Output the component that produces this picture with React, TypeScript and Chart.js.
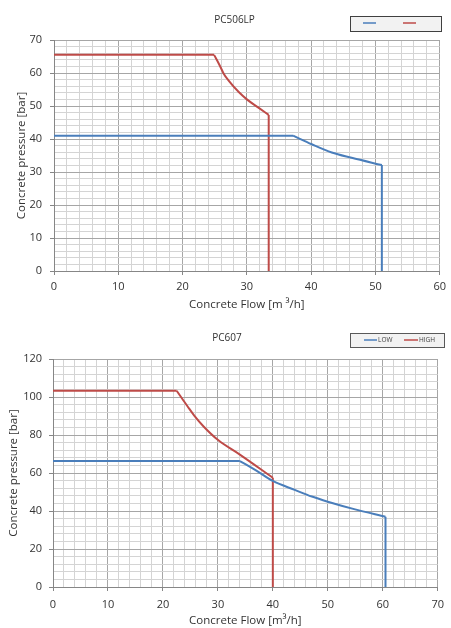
import React, { useEffect, useRef } from 'react';
import { Chart, registerables } from 'chart.js';

Chart.register(...registerables);

// ---------- DATA ----------
const seriesNames = ['LOW', 'HIGH'];

// PC506LP
const top_lowX = [0, 37.2, 40.1, 43.2, 46.3, 51.0, 51.0];
const top_lowY = [41, 41, 38.4, 35.9, 34.3, 32.1, 0];
const top_highX = [0, 24.9, 25.7, 26.4, 27.2, 28.7, 30.0, 31.8, 33.4, 33.4];
const top_highY = [65.5, 65.5, 62.6, 59.8, 57.6, 54.3, 52.0, 49.5, 47.3, 0];

// PC607
const bot_lowX = [0, 34.0, 37.0, 40.0, 44.1, 47.1, 50.0, 54.8, 60.5, 60.5];
const bot_lowY = [66.3, 66.3, 61.3, 55.8, 51.0, 47.6, 44.9, 41.0, 37.0, 0];
const bot_highX = [0, 22.5, 24.5, 25.7, 27.4, 30.1, 34.0, 40.0, 40.0];
const bot_highY = [103.3, 103.3, 95.0, 90.2, 84.5, 77.2, 69.7, 57.5, 0];

const titles = ['PC506LP', 'PC607'];
const xTitles = ['Concrete Flow [m \u00b3/h]', 'Concrete Flow [m\u00b3/h]'];
const yTitle = 'Concrete pressure [bar]';

// ---------- STYLE ----------
const FONT = "'Open Sans', sans-serif";
const BLUE = '#4a7ebb';
const RED = '#be4b48';
const MAJOR = '#a6a6a6';
const MINOR = '#d4d4d4';
const AXIS = '#868686';
const TEXT = '#333333';

const toPts = (xs: number[], ys: number[]) => xs.map((x, i) => ({ x, y: ys[i] }));

// one series drawn as: flat start (straight), smooth curve, vertical end (straight)
function seriesDatasets(xs: number[], ys: number[], color: string, label: string) {
  const pts = toPts(xs, ys);
  const n = pts.length;
  const common = { borderColor: color, backgroundColor: color, showLine: true, pointRadius: 0, borderWidth: 2, fill: false, label };
  return [
    { ...common, data: pts.slice(0, 2), tension: 0 },
    { ...common, data: pts.slice(1, n - 1), cubicInterpolationMode: 'monotone' },
    { ...common, data: pts.slice(n - 2), tension: 0 },
  ];
}

const decorPlugin = {
  id: 'decor',
  afterDraw(chart: any, _args: any, opts: any) {
    const ctx = chart.ctx as CanvasRenderingContext2D;
    ctx.save();
    ctx.font = `${opts.titleSize}px ${FONT}`;
    ctx.fillStyle = TEXT;
    ctx.textAlign = 'center';
    ctx.textBaseline = 'middle';
    ctx.fillText(opts.title, opts.titleX, opts.titleY);
    const b = opts.box;
    ctx.fillStyle = '#f2f2f2';
    ctx.fillRect(b.x, b.y, b.w, b.h);
    ctx.strokeStyle = opts.boxBorder;
    ctx.lineWidth = 1;
    ctx.strokeRect(b.x + 0.5, b.y + 0.5, b.w, b.h);
    opts.items.forEach((it: any) => {
      ctx.strokeStyle = it.color;
      ctx.lineWidth = 1.5;
      ctx.beginPath();
      ctx.moveTo(it.x, it.y);
      ctx.lineTo(it.x + it.len, it.y);
      ctx.stroke();
      if (opts.showText) {
        ctx.fillStyle = '#404040';
        ctx.font = `6.5px ${FONT}`;
        ctx.textAlign = 'left';
        ctx.textBaseline = 'middle';
        ctx.fillText(it.label, it.x + it.len + 1, it.y + 0.5);
      }
    });
    ctx.restore();
  },
};

type Cfg = {
  lowX: number[]; lowY: number[]; highX: number[]; highY: number[];
  xMax: number; yMax: number; yStep: number; yMajor: number;
  xTitle: string; decor: any;
  padTop: number; padRight: number; yWidth: number; xHeight: number;
  yLabelPad: number; xLabelPad: number; yTitlePad: number; xTitlePad: number;
};

function buildConfig(c: Cfg): any {
  const tickFont = { family: FONT, size: 11 };
  const titleFont = { family: FONT, size: 11.5 };
  return {
    type: 'scatter',
    data: {
      datasets: [
        ...seriesDatasets(c.lowX, c.lowY, BLUE, seriesNames[0]),
        ...seriesDatasets(c.highX, c.highY, RED, seriesNames[1]),
      ],
    },
    options: {
      animation: false,
      responsive: false,
      maintainAspectRatio: false,
      layout: { padding: { left: 0, right: c.padRight, top: c.padTop, bottom: 0 } },
      plugins: {
        legend: { display: false },
        title: { display: false },
        tooltip: { enabled: false },
        decor: c.decor,
      },
      scales: {
        x: {
          type: 'linear', min: 0, max: c.xMax,
          ticks: {
            stepSize: 2, autoSkip: false, maxRotation: 0, font: tickFont, color: TEXT, padding: c.xLabelPad,
            callback: (v: any) => (Number(v) % 10 === 0 ? String(v) : ''),
          },
          grid: {
            color: (ctx: any) => (ctx.tick && ctx.tick.value % 10 === 0 ? MAJOR : MINOR),
            tickColor: (ctx: any) => (ctx.tick && ctx.tick.value % 10 === 0 ? AXIS : 'rgba(0,0,0,0)'),
            tickLength: 4, lineWidth: 1,
          },
          border: { display: true, color: AXIS, width: 1 },
          title: { display: true, text: c.xTitle, font: titleFont, color: TEXT, padding: { top: c.xTitlePad, bottom: c.xTitlePad } },
          afterFit: (s: any) => { s.height = c.xHeight; },
        },
        y: {
          type: 'linear', min: 0, max: c.yMax,
          ticks: {
            stepSize: c.yStep, autoSkip: false, font: tickFont, color: TEXT, padding: c.yLabelPad,
            callback: (v: any) => (Number(v) % c.yMajor === 0 ? String(v) : ''),
          },
          grid: {
            color: (ctx: any) => (ctx.tick && ctx.tick.value % c.yMajor === 0 ? MAJOR : MINOR),
            tickColor: (ctx: any) => (ctx.tick && ctx.tick.value % c.yMajor === 0 ? AXIS : 'rgba(0,0,0,0)'),
            tickLength: 4, lineWidth: 1,
          },
          border: { display: true, color: AXIS, width: 1 },
          title: { display: true, text: yTitle, font: titleFont, color: TEXT, padding: { top: c.yTitlePad, bottom: c.yTitlePad } },
          afterFit: (s: any) => { s.width = c.yWidth; },
        },
      },
    },
    plugins: [decorPlugin],
  };
}

const topCfg: Cfg = {
  lowX: top_lowX, lowY: top_lowY, highX: top_highX, highY: top_highY,
  xMax: 60, yMax: 70, yStep: 2, yMajor: 10, xTitle: xTitles[0],
  padTop: 40, padRight: 9, yWidth: 54, xHeight: 45,
  yLabelPad: 8, xLabelPad: 5, yTitlePad: 14.5, xTitlePad: 4,
  decor: {
    title: titles[0], titleSize: 10, titleX: 234.5, titleY: 20,
    box: { x: 350, y: 16, w: 91, h: 15 }, boxBorder: '#404040', showText: false,
    items: [
      { x: 363, y: 23, len: 13, color: BLUE, label: seriesNames[0] },
      { x: 403, y: 23, len: 13, color: RED, label: seriesNames[1] },
    ],
  },
};

const botCfg: Cfg = {
  lowX: bot_lowX, lowY: bot_lowY, highX: bot_highX, highY: bot_highY,
  xMax: 70, yMax: 120, yStep: 4, yMajor: 20, xTitle: xTitles[1],
  padTop: 43, padRight: 6, yWidth: 53, xHeight: 41,
  yLabelPad: 7, xLabelPad: 7, yTitlePad: 7, xTitlePad: 0.5,
  decor: {
    title: titles[1], titleSize: 10, titleX: 227, titleY: 22,
    box: { x: 350, y: 17, w: 94, h: 14 }, boxBorder: '#595959', showText: true,
    items: [
      { x: 364, y: 24, len: 13, color: BLUE, label: seriesNames[0] },
      { x: 404, y: 24, len: 14, color: RED, label: seriesNames[1] },
    ],
  },
};

function ChartCanvas({ cfg, top, height }: { cfg: Cfg; top: number; height: number }) {
  const ref = useRef<HTMLCanvasElement>(null);
  useEffect(() => {
    if (!ref.current) return;
    const chart = new Chart(ref.current, buildConfig(cfg));
    return () => chart.destroy();
  }, [cfg]);
  return (
    <canvas
      ref={ref}
      width={451}
      height={height}
      style={{ position: 'absolute', left: 0, top, width: 451, height, display: 'block' }}
    />
  );
}

export default function App() {
  return (
    <div style={{ position: 'absolute', left: 0, top: 0, width: 451, height: 628, background: '#ffffff', overflow: 'hidden' }}>
      <ChartCanvas cfg={topCfg} top={0} height={316} />
      <ChartCanvas cfg={botCfg} top={316} height={312} />
    </div>
  );
}
